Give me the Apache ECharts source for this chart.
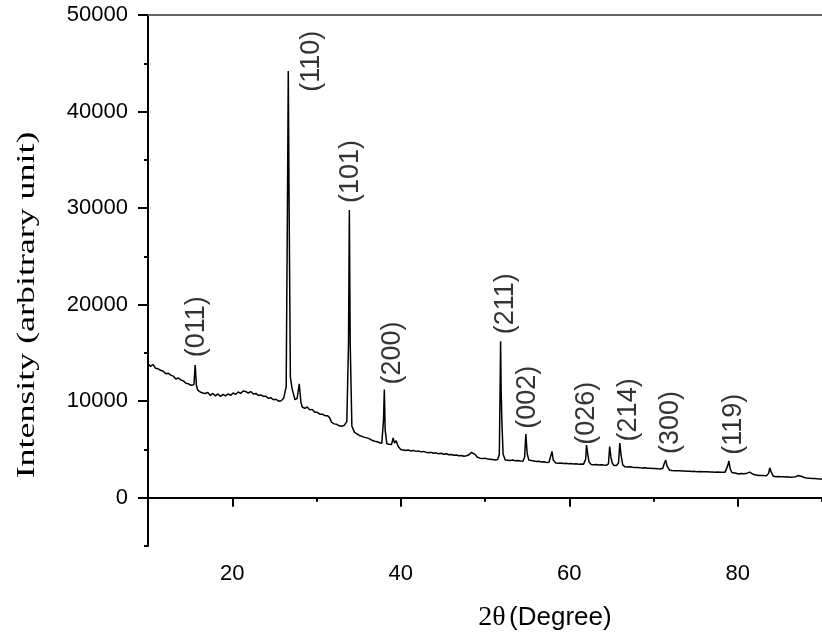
<!DOCTYPE html>
<html>
  <head>
<meta charset="utf-8">
<title>XRD pattern</title>
<script src="https://cdn.jsdelivr.net/npm/echarts@6/dist/echarts.min.js"></script>
<style>
  html, body { margin: 0; padding: 0; background: #fff; }
  #main { width: 822px; height: 635px; }
</style>
  </head>
  <body>
    <div id="main"></div>
    <script type="application/javascript">

// 2theta (degree) and intensity
var twoTheta = [
  10.0, 10.3, 10.6, 10.9, 11.2, 11.5, 11.8, 12.1, 12.4, 12.7, 13.0, 13.3, 13.6, 13.9, 14.2, 14.5, 14.8, 15.1, 15.3, 15.45,
  15.6, 15.75, 15.9, 16.2, 16.5, 16.8, 17.1, 17.4, 17.7, 18.0, 18.3, 18.6, 18.9, 19.2, 19.5, 19.8, 20.1, 20.4, 20.7, 21.0,
  21.3, 21.6, 21.9, 22.2, 22.5, 22.8, 23.1, 23.4, 23.7, 24.0, 24.3, 24.6, 24.9, 25.2, 25.5, 25.8, 26.1, 26.4, 26.55, 26.65,
  26.75, 26.9, 27.1, 27.25, 27.45, 27.7, 27.95, 28.15, 28.3, 28.6, 28.9, 29.2, 29.5, 29.8, 30.1, 30.4, 30.7, 31.0, 31.3, 31.55,
  31.8, 32.1, 32.4, 32.7, 33.0, 33.3, 33.6, 33.8, 33.9, 34.0, 34.2, 34.5, 34.8, 35.1, 35.4, 35.7, 36.0, 36.3, 36.6, 36.9,
  37.2, 37.5, 37.75, 37.95, 38.05, 38.15, 38.35, 38.6, 38.9, 39.1, 39.25, 39.45, 39.7, 40.0, 40.3, 40.6, 40.9, 41.2, 41.5, 41.8,
  42.1, 42.4, 42.7, 43.0, 43.3, 43.6, 43.9, 44.2, 44.5, 44.8, 45.1, 45.4, 45.7, 46.0, 46.3, 46.6, 46.9, 47.2, 47.5, 47.8,
  48.1, 48.4, 48.6, 48.8, 49.1, 49.4, 49.7, 50.0, 50.3, 50.6, 50.9, 51.2, 51.5, 51.7, 51.8, 51.85, 51.92, 52.0, 52.15, 52.4,
  52.7, 53.0, 53.3, 53.6, 53.9, 54.2, 54.5, 54.7, 54.85, 55.0, 55.2, 55.5, 55.8, 56.1, 56.4, 56.7, 57.0, 57.3, 57.6, 57.8,
  57.95, 58.1, 58.4, 58.7, 59.0, 59.3, 59.6, 59.9, 60.2, 60.5, 60.8, 61.1, 61.4, 61.7, 61.95, 62.05, 62.2, 62.35, 62.6, 62.9,
  63.2, 63.5, 63.8, 64.1, 64.4, 64.65, 64.8, 64.95, 65.1, 65.3, 65.6, 65.85, 66.0, 66.15, 66.35, 66.6, 66.9, 67.2, 67.5, 67.8,
  68.1, 68.4, 68.7, 69.0, 69.3, 69.6, 69.9, 70.2, 70.5, 70.8, 71.1, 71.3, 71.45, 71.6, 71.9, 72.2, 72.5, 72.8, 73.1, 73.4,
  73.7, 74.0, 74.3, 74.6, 74.9, 75.2, 75.5, 75.8, 76.1, 76.4, 76.7, 77.0, 77.3, 77.6, 77.9, 78.2, 78.5, 78.8, 78.95, 79.1,
  79.3, 79.5, 79.8, 80.1, 80.4, 80.7, 81.0, 81.2, 81.4, 81.6, 81.9, 82.2, 82.5, 82.8, 83.1, 83.4, 83.65, 83.8, 83.95, 84.2,
  84.5, 84.8, 85.1, 85.4, 85.7, 86.0, 86.3, 86.6, 86.9, 87.2, 87.4, 87.6, 87.9, 88.2, 88.5, 88.8, 89.1, 89.4, 89.7, 90.0
];
var intensity = [
  13900, 13600, 13800, 13400, 13350, 13200, 13100, 12850, 12900, 12700, 12600, 12300, 12400, 12200, 12100, 11850, 11800, 11650, 11550, 11700,
  13750, 11600, 11150, 10950, 10850, 10800, 10900, 10600, 10800, 10550, 10750, 10500, 10700, 10550, 10750, 10600, 10850, 10700, 10950, 10800,
  11050, 11000, 10850, 11000, 10750, 10800, 10600, 10650, 10500, 10500, 10300, 10350, 10150, 10200, 10000, 10050, 10300, 11500, 30000, 44200,
  30000, 12500, 11300, 11500, 10150, 10300, 11800, 9900, 9400, 9250, 9400, 9100, 9150, 8850, 8850, 8650, 8650, 8500, 8500, 8300,
  7800, 7650, 7600, 7450, 7400, 7500, 7900, 16000, 29800, 16000, 7400, 6800, 6600, 6450, 6350, 6250, 6200, 6100, 5950, 5850,
  5800, 5700, 5650, 8000, 11200, 7000, 5600, 5550, 5500, 6200, 5650, 5900, 5300, 5000, 4950, 4900, 4950, 4850, 4900, 4800,
  4850, 4750, 4800, 4700, 4650, 4700, 4600, 4650, 4550, 4600, 4500, 4550, 4450, 4480, 4400, 4420, 4350, 4380, 4300, 4350,
  4450, 4700, 4780, 4500, 4200, 4100, 4050, 4100, 4000, 3980, 3950, 3900, 3950, 4500, 12000, 16200, 11100, 8000, 4500, 3900,
  3880, 3850, 3900, 3820, 3850, 3800, 3780, 4200, 6600, 4600, 3900, 3850, 3800, 3750, 3780, 3700, 3720, 3650, 3680, 3700,
  4800, 3900, 3600, 3580, 3600, 3550, 3560, 3520, 3540, 3500, 3520, 3480, 3500, 3480, 4000, 5460, 4500, 3700, 3450, 3420,
  3440, 3400, 3420, 3380, 3360, 3500, 5300, 4200, 3600, 3350, 3330, 3600, 5670, 4400, 3400, 3200, 3180, 3200, 3150, 3120,
  3140, 3100, 3080, 3100, 3050, 3060, 3020, 3030, 3000, 2980, 3050, 3600, 3900, 3300, 2850, 2820, 2800, 2790, 2800, 2760,
  2770, 2740, 2750, 2720, 2730, 2700, 2710, 2690, 2680, 2700, 2660, 2670, 2650, 2660, 2630, 2640, 2650, 3300, 3800, 3000,
  2620, 2520, 2530, 2460, 2520, 2480, 2500, 2620, 2650, 2450, 2400, 2350, 2300, 2310, 2290, 2280, 2500, 3100, 2700, 2250,
  2180, 2200, 2170, 2180, 2150, 2160, 2130, 2140, 2180, 2300, 2380, 2200, 2100, 2050, 2030, 2000, 1980, 1960, 1950, 1940
];

// Miller indices written above the peaks, with where they sit
var peakLabels = ['(011)', '(110)', '(101)', '(200)', '(211)', '(002)', '(026)', '(214)', '(300)', '(119)'];
var labelTheta = [15.75, 29.4, 34.1, 39.0, 52.45, 55.0, 62.1, 67.0, 72.0, 79.5];
var labelHeight = [17700, 45200, 33800, 15000, 20100, 10400, 8750, 9100, 7800, 7600];

var xLabelTicks = [20, 40, 60, 80];
var xMinorTicks = [10, 30, 50, 70, 90];
var yLabelTicks = [0, 10000, 20000, 30000, 40000, 50000];
var yMinorTicks = [-5000, 5000, 15000, 25000, 35000, 45000];

var pattern = twoTheta.map(function (t, i) { return [t, intensity[i]]; });
var annot = peakLabels.map(function (s, i) { return [labelTheta[i], labelHeight[i], s]; });

var sans = 'Liberation Sans, Arial, sans-serif';
var serif = 'Liberation Serif, Times New Roman, serif';

var myChart = echarts.init(document.getElementById('main'), null, {renderer: 'canvas'});
myChart.setOption({
  animation: false,
  backgroundColor: '#fff',
  grid: {left: 148, right: 0, top: 15, bottom: 89, outerBoundsMode: 'none'},
  // y title drawn as text so it can be stretched along its length like the original
  graphic: [{
    type: 'text',
    x: 27, y: 305,
    rotation: Math.PI / 2,
    scaleX: 1.38,
    style: {
      text: 'Intensity (arbitrary unit)',
      font: '26px ' + serif,
      fill: '#000',
      textAlign: 'center',
      textVerticalAlign: 'middle'
    }
  }],
  xAxis: [
    {
      type: 'value', min: 10, max: 90, position: 'bottom',
      axisLine: {lineStyle: {color: '#000', width: 2}},
      axisTick: {customValues: xLabelTicks, length: 9, lineStyle: {color: '#000', width: 2}},
      axisLabel: {customValues: xLabelTicks, margin: 17, fontSize: 22, color: '#000', fontFamily: sans},
      splitLine: {show: false},
      name: '{s|2θ} {a|(Degree)}',
      nameLocation: 'middle', nameGap: 58,
      nameTextStyle: {
        padding: [0, 0, 0, 120],
        rich: {
          s: {fontFamily: serif, fontSize: 28, color: '#000'},
          a: {fontFamily: sans, fontSize: 26, color: '#000'}
        }
      }
    },
    {
      type: 'value', min: 10, max: 90, position: 'bottom',
      axisLine: {show: false},
      axisTick: {customValues: xMinorTicks, length: 4, lineStyle: {color: '#000', width: 2}},
      axisLabel: {show: false},
      splitLine: {show: false}
    },
    {
      type: 'value', min: 10, max: 90, position: 'top',
      axisLine: {lineStyle: {color: '#666', width: 2}},
      axisTick: {show: false}, axisLabel: {show: false}, splitLine: {show: false}
    }
  ],
  yAxis: [
    {
      type: 'value', min: -5000, max: 50000, position: 'left',
      axisLine: {show: true, lineStyle: {color: '#000', width: 2}},
      axisTick: {show: true, customValues: yLabelTicks, length: 10, lineStyle: {color: '#000', width: 2}},
      axisLabel: {
        customValues: yLabelTicks, margin: 20, fontSize: 22, color: '#000', fontFamily: sans,
        formatter: function (v) { return String(v); }
      },
      splitLine: {show: false}
    },
    {
      type: 'value', min: -5000, max: 50000, position: 'left',
      axisLine: {show: false},
      axisTick: {show: true, customValues: yMinorTicks, length: 4, lineStyle: {color: '#000', width: 2}},
      axisLabel: {show: false},
      splitLine: {show: false}
    }
  ],
  series: [
    {
      name: 'XRD',
      type: 'line',
      data: pattern,
      showSymbol: false,
      lineStyle: {color: '#000', width: 1.5},
      z: 3
    },
    {
      name: 'hkl',
      type: 'scatter',
      data: annot,
      symbolSize: 0,
      label: {
        show: true, position: 'inside', rotate: 90,
        formatter: function (p) { return p.value[2]; },
        fontFamily: sans, fontSize: 27, color: '#000'
      },
      z: 4
    }
  ]
});

</script>
  </body>
</html>
